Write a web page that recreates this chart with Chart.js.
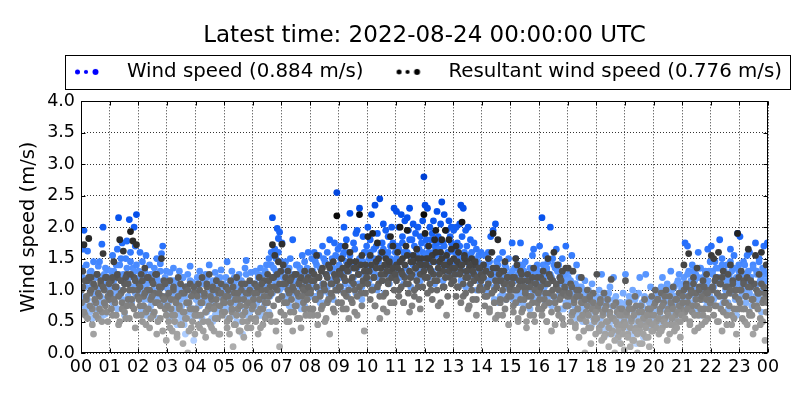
<!DOCTYPE html>
<html><head><meta charset="utf-8">
<script src="https://cdn.jsdelivr.net/npm/chart.js@4.4.0/dist/chart.umd.min.js"></script>
<style>html,body{margin:0;padding:0;background:#fff;}</style>
</head><body>
<canvas id="c" width="800" height="400"></canvas>
<script>
const titleText = 'Latest time: 2022-08-24 00:00:00 UTC';
const seriesNames = ['Wind speed (0.884 m/s)', 'Resultant wind speed (0.776 m/s)'];
const hourLabels = ['00','01','02','03','04','05','06','07','08','09','10','11','12','13','14','15','16','17','18','19','20','21','22','23','00'];
const yAxisTitle = 'Wind speed (m/s)';

// wind speed samples per hour of day (m/s), first group of days
const windSpeed = [
[1.35,1.65,1.95,0.85,1.15,1.62,0.72,1.28,1.05,0.55,1.45,0.92,1.2,0.68,1.38,1.02,0.8,1.73,2.0,1.25,0.62,1.1,1.32,0.95],
[1.2,0.9,1.55,1.3,0.75,1.05,1.65,2.15,1.4,0.95,1.75,1.25,0.6,1.5,1.78,1.12,2.12,1.6,0.85,1.35,2.0,1.7,2.2,1.1],
[1.3,1.6,0.95,1.45,1.2,0.7,1.55,1.1,0.85,1.4,1.25,0.6,1.0,1.35,0.8,1.5,1.15,0.9,1.42,1.58,1.7,1.05,0.75,1.3],
[1.1,0.8,1.28,0.6,0.95,1.35,0.7,1.15,0.45,1.0,1.3,0.85,0.55,1.2,0.9,0.3,1.05,1.25,0.75,1.38,0.65,1.12,0.2,0.95],
[1.0,1.2,0.75,1.3,0.9,0.55,1.15,0.85,1.25,0.65,1.05,1.4,0.8,1.1,0.5,0.95,1.28,0.7,1.18,0.6,1.02,1.32,0.88,1.1],
[0.95,1.2,1.45,0.7,1.05,0.85,1.3,0.6,1.12,0.9,0.5,1.0,1.25,0.75,1.15,0.3,0.95,1.35,1.47,0.8,1.1,0.65,1.28,1.05],
[1.1,0.85,1.3,0.7,1.2,0.95,1.35,0.6,1.05,1.25,0.8,1.4,1.15,1.5,0.9,1.6,2.15,1.55,1.65,1.3,1.98,1.82,1.92,1.45],
[1.75,1.2,0.9,1.45,1.05,1.3,0.75,1.5,1.15,1.8,0.95,1.25,1.4,0.85,1.1,1.35,0.7,1.55,1.2,1.45,1.0,1.3,1.6,1.15],
[1.3,1.5,1.1,1.6,0.9,1.4,1.2,1.55,0.8,1.35,1.7,1.0,1.45,1.25,1.6,0.95,1.8,1.15,1.5,1.35,1.75,1.05,2.55,1.65],
[1.4,1.7,1.2,1.55,2.0,1.3,1.8,1.0,1.6,2.22,1.45,1.15,1.75,1.35,1.9,1.95,1.25,2.3,1.5,1.05,1.85,1.6,1.3,1.7],
[2.0,1.5,1.8,2.2,1.3,1.65,2.35,1.45,1.9,1.2,2.45,1.6,1.75,2.05,1.35,1.95,1.55,1.85,1.25,1.7,2.0,1.45,2.3,1.6],
[2.25,1.7,2.0,1.45,2.2,1.85,1.6,2.1,1.35,2.15,1.95,2.3,1.55,1.8,2.05,1.4,1.9,1.65,2.0,1.5,1.85,1.75,2.1,2.8],
[2.35,1.8,2.3,1.6,2.0,1.45,1.9,2.1,1.7,1.55,2.25,1.85,1.65,2.05,2.4,1.75,2.2,1.5,1.95,1.6,2.1,1.85,2.0,1.7],
[1.95,1.6,2.0,1.75,1.45,2.05,2.35,1.85,2.3,1.55,1.95,1.7,2.0,1.4,1.8,1.6,1.5,1.75,1.35,1.65,1.45,1.55,1.3,1.6],
[1.4,1.2,1.55,1.0,1.35,1.6,1.15,1.85,1.3,1.95,1.05,2.05,1.45,1.25,1.5,0.9,1.3,1.6,1.1,1.4,0.85,1.2,1.5,1.0],
[1.2,1.75,1.0,1.35,1.5,0.9,1.25,1.4,1.75,1.1,0.8,1.3,1.45,1.0,1.2,0.75,1.35,1.1,1.55,1.65,0.95,1.25,1.4,1.05],
[1.7,1.25,2.15,1.4,1.05,1.55,1.3,1.45,0.9,2.0,1.2,1.5,0.8,1.35,1.65,1.1,1.4,0.95,1.25,1.5,0.7,1.2,1.7,1.0],
[1.2,1.0,1.3,1.55,0.8,1.1,0.6,1.4,0.95,1.2,0.7,1.05,0.5,0.9,1.15,0.65,0.85,1.0,0.4,0.75,1.1,0.55,0.9,0.7],
[0.9,0.7,1.0,0.55,1.25,0.8,0.4,0.95,0.65,0.3,0.85,1.05,0.5,0.75,1.2,0.35,0.9,0.6,0.2,0.8,0.45,0.7,0.95,0.55],
[1.25,0.8,0.5,0.9,0.3,0.7,1.0,0.4,0.85,0.15,0.6,0.95,1.2,0.5,0.75,0.25,0.9,1.25,0.65,0.45,0.8,1.05,0.55,0.85],
[0.75,1.0,0.6,0.9,0.45,0.85,1.05,1.2,0.7,0.95,0.5,1.1,0.8,1.0,1.3,0.65,0.9,1.05,0.55,0.85,1.15,1.25,0.75,1.0],
[1.1,1.2,1.75,0.9,1.7,1.3,0.8,1.05,1.4,0.7,1.15,1.25,0.95,1.6,1.35,0.6,1.0,1.2,0.85,1.3,1.1,1.65,0.75,1.45],
[1.7,1.3,1.05,1.45,1.2,0.9,1.35,1.8,1.1,1.5,0.8,1.25,1.0,1.4,0.7,1.2,1.65,1.3,0.95,1.55,1.15,0.6,1.9,1.4],
[1.85,1.3,1.1,1.45,0.9,1.25,1.55,1.0,1.6,1.2,0.75,1.4,1.05,1.75,1.3,0.85,1.5,1.15,0.65,1.35,1.7,1.0,1.25,1.75]
];

// wind speed samples per hour of day (m/s), second group of days
const windSpeed2 = [
[0.9,1.2,0.75,1.05,1.4,0.85,1.15,0.65,1.3,0.95,1.1,0.8,1.25,0.7,1.0,1.45,0.9,1.2,0.6,1.05,1.35,0.85,1.15,1.0],
[1.05,1.3,0.8,1.15,0.95,1.4,0.7,1.25,1.0,1.5,0.85,1.2,1.1,0.75,1.35,0.9,1.2,1.45,0.8,1.05,1.3,0.95,1.4,1.15],
[0.95,1.2,0.7,1.05,0.85,1.3,0.6,1.15,0.9,1.0,0.75,1.25,0.65,1.1,0.85,1.2,0.55,1.0,1.3,0.8,1.1,0.9,1.2,0.7],
[0.8,1.0,0.55,0.9,1.15,0.7,0.95,0.5,1.1,0.85,0.6,1.0,0.75,1.2,0.45,0.9,1.05,0.65,0.8,1.15,0.55,0.95,0.7,1.05],
[0.85,0.6,1.05,0.75,0.95,0.5,1.1,0.8,0.65,1.2,0.9,0.7,1.0,0.55,1.15,0.85,0.6,1.05,0.75,0.95,1.2,0.65,0.9,0.8],
[0.7,1.0,0.85,0.55,1.1,0.75,0.95,0.6,1.2,0.8,1.05,0.65,0.9,1.15,0.5,0.85,1.0,0.7,1.25,0.6,0.9,1.05,0.75,0.95],
[0.95,0.7,1.1,0.8,1.25,0.6,1.0,0.85,1.15,0.75,1.3,0.9,1.05,0.65,1.2,1.4,0.95,1.35,1.1,1.5,1.2,1.6,1.0,1.3],
[1.3,1.05,1.4,0.85,1.2,1.0,1.35,0.9,1.1,0.7,1.25,0.95,1.15,1.4,0.8,1.05,1.3,0.9,1.2,0.75,1.1,1.35,0.95,1.25],
[1.15,0.9,1.3,1.05,1.45,0.85,1.2,1.0,1.35,0.95,1.1,1.5,0.8,1.25,1.05,1.4,0.9,1.3,1.15,0.85,1.2,1.55,1.0,1.35],
[1.2,1.5,1.0,1.35,1.6,1.1,1.45,0.9,1.3,1.55,1.05,1.4,1.2,1.65,0.95,1.35,1.1,1.5,1.25,0.85,1.45,1.15,1.6,1.3],
[1.4,1.15,1.6,1.3,1.05,1.5,1.25,1.7,1.0,1.45,1.35,1.55,1.15,1.65,0.95,1.4,1.25,1.6,1.1,1.5,1.3,1.75,1.2,1.45],
[1.5,1.3,1.65,1.2,1.45,1.75,1.1,1.55,1.35,1.6,1.25,1.8,1.05,1.5,1.4,1.7,1.2,1.55,1.3,1.65,1.15,1.45,1.6,1.35],
[1.55,1.35,1.7,1.2,1.5,1.8,1.3,1.6,1.1,1.45,1.75,1.25,1.65,1.4,1.55,1.15,1.7,1.35,1.5,1.25,1.6,1.4,1.75,1.3],
[1.45,1.65,1.25,1.55,1.35,1.7,1.15,1.5,1.3,1.6,1.05,1.45,1.25,1.55,1.1,1.4,1.3,1.2,1.45,1.0,1.35,1.15,1.25,1.4],
[1.25,1.05,1.4,0.9,1.3,1.15,1.45,0.95,1.2,1.35,0.85,1.25,1.1,1.4,0.8,1.15,1.3,0.95,1.2,1.05,1.35,0.9,1.1,1.25],
[1.05,1.3,0.85,1.15,1.0,1.35,0.8,1.2,0.95,1.1,1.4,0.75,1.05,1.25,0.9,1.15,0.7,1.3,1.0,0.85,1.2,1.1,0.95,1.3],
[1.15,0.9,1.3,1.0,1.2,0.8,1.35,1.1,0.95,1.25,0.75,1.15,1.4,0.85,1.05,1.3,0.9,1.2,0.7,1.1,1.0,1.25,0.8,1.15],
[1.0,0.8,1.15,0.65,0.95,0.75,1.1,0.55,0.9,1.05,0.6,0.85,0.7,1.0,0.5,0.8,0.95,0.6,0.75,0.9,0.45,0.85,0.65,0.8],
[0.75,0.55,0.85,0.45,0.7,0.9,0.35,0.65,0.8,0.5,0.95,0.6,0.4,0.75,0.55,0.85,0.3,0.7,0.5,0.65,0.8,0.4,0.6,0.75],
[0.6,0.8,0.4,0.7,0.5,0.85,0.3,0.65,0.55,0.9,0.45,0.75,0.35,0.6,0.8,0.5,0.7,0.25,0.65,0.85,0.4,0.75,0.55,0.7],
[0.65,0.85,0.5,0.95,0.7,0.6,1.0,0.75,0.55,0.9,0.8,1.05,0.65,0.85,0.7,1.0,0.6,0.9,0.8,1.1,0.7,0.95,0.85,1.05],
[0.95,0.75,1.1,0.85,1.25,0.7,1.0,1.15,0.8,1.3,0.9,1.05,0.65,1.2,0.95,1.35,0.85,1.1,1.0,1.25,0.75,1.15,1.3,0.9],
[1.05,1.25,0.85,1.15,1.35,0.95,1.2,0.75,1.1,1.4,0.9,1.3,1.0,1.15,0.8,1.25,1.45,0.95,1.1,1.35,0.85,1.2,1.05,1.3],
[1.1,0.9,1.25,1.0,1.4,0.8,1.15,1.3,0.95,1.2,0.75,1.35,1.05,0.9,1.25,1.1,1.45,0.85,1.2,1.0,1.3,0.95,1.15,1.4]
];

// resultant wind speed samples per hour of day (m/s), first group of days
const resultantSpeed = [
[1.0,1.3,1.72,0.6,0.85,1.15,1.82,0.95,1.2,0.7,0.3,1.05,0.8,1.25,0.55,0.9,1.1,0.65,1.58,1.0,0.75,1.2,0.5,0.85],
[0.9,1.15,0.6,1.45,0.8,1.05,1.2,0.45,1.8,0.95,0.7,1.62,1.1,0.55,1.25,0.85,1.0,1.93,0.75,1.78,1.2,0.4,1.72,1.0],
[1.1,0.75,1.25,0.5,0.9,1.35,0.65,1.0,1.2,0.4,0.85,1.15,0.6,0.95,1.25,0.3,0.8,1.05,0.55,1.5,0.9,1.15,0.7,0.2],
[0.9,0.5,1.15,0.7,0.35,1.0,0.6,0.85,0.25,1.2,0.75,0.45,0.95,0.15,0.65,1.05,0.55,0.0,0.8,1.1,0.4,0.7,0.95,0.3],
[0.95,0.6,1.1,0.4,0.8,1.2,0.5,0.9,0.25,1.05,0.7,1.25,0.45,0.85,1.0,0.35,0.75,1.15,0.55,0.95,0.3,1.1,0.65,0.85],
[0.8,1.05,0.5,0.9,0.3,1.15,0.65,0.1,0.95,0.45,1.2,0.7,0.85,0.35,1.0,0.6,0.25,1.1,0.75,0.5,0.95,1.15,0.4,0.8],
[0.85,1.1,0.55,0.95,0.3,1.2,0.7,1.0,0.45,1.15,0.8,0.6,1.25,0.9,1.05,0.5,1.72,1.2,1.55,0.35,1.0,1.45,0.1,1.3],
[1.73,1.4,0.8,1.1,0.5,1.3,0.95,0.65,1.2,0.35,1.0,0.75,1.25,0.55,0.9,1.15,0.4,1.05,0.8,1.3,0.6,0.95,1.2,0.7],
[1.0,1.3,0.6,1.15,0.85,1.55,0.45,1.2,0.95,0.7,1.35,1.05,0.5,1.25,0.8,1.4,0.3,1.1,0.9,1.45,0.65,1.2,2.18,1.0],
[1.3,1.05,1.5,0.7,1.2,1.7,0.9,1.4,0.55,1.6,1.15,0.8,1.35,1.0,1.45,0.6,1.25,2.2,0.95,1.55,1.1,0.35,1.4,1.2],
[1.85,1.3,1.55,1.0,1.9,1.2,0.75,1.45,1.75,1.1,0.55,1.35,1.6,0.9,1.25,1.5,0.65,1.15,1.4,1.85,1.3,1.7,0.8,1.2],
[1.4,1.6,1.0,2.0,1.3,1.5,0.8,1.2,1.7,1.95,1.1,0.65,1.45,1.25,1.55,0.9,1.35,1.65,1.05,1.4,0.7,1.5,1.25,2.2],
[1.9,1.5,1.2,1.7,1.35,1.0,1.55,1.25,1.8,1.95,1.15,0.75,1.45,1.6,1.8,1.3,1.05,1.95,0.6,1.4,1.8,1.2,1.65,1.35],
[1.5,1.25,1.7,1.05,1.6,1.4,1.3,2.08,0.9,1.55,1.2,1.45,0.7,1.35,1.1,1.5,0.85,1.25,1.4,0.6,1.2,1.0,1.35,1.15],
[1.2,1.4,0.9,1.3,1.05,1.5,0.7,1.25,1.6,1.9,1.0,0.55,1.35,1.8,1.15,0.8,1.3,0.6,1.1,1.45,0.85,1.2,0.45,1.0],
[1.1,1.2,0.75,1.0,1.5,1.4,0.5,1.05,1.3,0.65,1.15,0.85,1.0,0.4,1.25,0.9,0.6,1.1,0.8,1.35,0.5,1.0,1.2,0.7],
[1.0,1.2,0.7,1.3,0.85,1.1,0.5,1.5,1.25,0.95,0.35,1.15,1.6,0.8,1.05,1.4,0.6,1.2,0.9,1.3,0.45,1.0,1.35,0.75],
[1.35,0.9,1.1,0.6,1.3,0.8,0.45,1.0,0.7,0.25,0.9,1.2,0.55,0.8,0.0,0.65,1.0,0.4,0.85,0.15,0.7,0.95,0.5,0.3],
[1.25,0.7,0.4,0.85,0.2,0.6,0.95,0.3,0.75,0.5,0.1,0.65,1.17,0.35,0.55,0.0,0.8,0.45,0.25,0.7,0.15,0.6,0.4,0.05],
[1.15,0.6,0.3,0.8,0.1,0.5,0.7,0.2,0.9,0.4,0.0,0.65,0.35,0.75,0.15,0.55,0.85,0.25,0.45,0.7,0.1,0.6,0.9,0.35],
[0.75,1.0,0.5,0.85,0.3,0.65,0.95,0.4,0.8,0.55,1.0,0.2,0.7,0.9,0.45,0.75,1.05,0.35,0.6,0.85,0.5,0.95,0.25,0.7],
[0.9,1.4,0.65,1.1,0.8,1.58,0.5,1.0,0.75,1.2,0.35,0.95,1.35,0.6,1.05,0.85,0.45,1.15,0.7,0.95,1.25,0.55,1.0,0.8],
[1.55,1.0,1.5,0.75,1.2,0.5,1.6,0.9,1.1,0.35,1.3,0.8,1.05,0.6,1.25,0.95,1.4,0.45,1.15,0.7,1.0,0.3,1.9,1.2],
[1.0,1.3,0.7,1.15,0.5,0.9,1.2,1.65,0.6,1.05,0.85,0.3,1.1,1.55,0.75,0.95,1.25,0.45,1.6,0.8,1.05,0.2,1.4,0.9]
];

// resultant wind speed samples per hour of day (m/s), second group of days
const resultantSpeed2 = [
[0.8,1.05,0.65,1.15,0.9,0.55,1.2,0.75,1.0,0.45,1.1,0.85,0.6,1.25,0.95,0.7,1.15,0.5,1.05,0.8,1.2,0.65,0.9,1.1],
[0.95,0.7,1.2,0.85,1.05,0.6,1.25,0.9,0.5,1.15,0.8,1.0,0.65,1.2,0.75,1.1,0.55,1.25,0.85,1.0,0.7,1.15,0.6,0.9],
[0.85,1.05,0.6,1.15,0.75,0.95,0.45,1.2,0.7,1.0,0.55,0.9,1.1,0.65,0.8,1.25,0.5,0.95,0.75,1.05,0.35,0.85,1.1,0.6],
[0.75,0.95,0.4,0.85,0.6,1.05,0.5,0.8,0.3,0.9,0.7,1.1,0.45,0.65,0.95,0.55,0.8,1.0,0.35,0.7,0.9,0.5,1.05,0.6],
[0.7,0.9,0.45,1.0,0.6,0.8,0.35,0.95,0.65,1.1,0.5,0.75,0.9,0.4,1.05,0.7,0.55,0.85,1.0,0.3,0.75,0.95,0.6,0.8],
[0.65,0.9,0.4,1.0,0.55,0.8,0.7,1.05,0.45,0.85,0.6,0.95,0.35,0.75,1.1,0.5,0.85,0.65,0.95,0.4,0.8,1.0,0.55,0.7],
[0.75,0.95,0.5,1.05,0.65,0.85,0.4,1.1,0.7,0.9,0.55,1.0,0.8,1.15,0.6,0.95,1.2,0.75,1.05,0.5,1.25,0.85,1.1,0.65],
[0.9,1.1,0.6,1.2,0.8,1.0,0.5,1.15,0.85,1.05,0.65,1.25,0.75,0.95,1.1,0.55,1.2,0.9,1.0,0.7,1.15,0.85,1.05,0.6],
[0.95,1.15,0.7,1.25,0.85,1.05,0.6,1.2,0.9,1.3,0.75,1.1,1.0,0.55,1.2,0.85,1.35,0.95,1.1,0.7,1.25,1.0,1.15,0.8],
[1.05,1.25,0.8,1.35,0.95,1.15,0.7,1.3,1.0,1.45,0.85,1.2,1.1,0.65,1.35,0.9,1.25,1.05,1.4,0.75,1.15,1.3,0.95,1.2],
[1.1,1.3,0.85,1.4,1.0,1.2,0.75,1.35,1.05,1.5,0.9,1.25,1.15,0.7,1.4,0.95,1.3,1.1,1.45,0.8,1.2,1.35,1.0,1.25],
[1.15,1.35,0.9,1.45,1.05,1.25,0.8,1.4,1.1,1.55,0.95,1.3,1.2,0.75,1.45,1.0,1.35,1.15,1.5,0.85,1.25,1.4,1.05,1.3],
[1.2,1.4,0.95,1.5,1.1,1.3,0.85,1.45,1.15,1.6,1.0,1.35,1.25,0.8,1.5,1.05,1.4,1.2,1.55,0.9,1.3,1.45,1.1,1.35],
[1.15,1.35,0.9,1.45,1.05,1.25,0.8,1.4,1.1,1.5,0.95,1.3,1.2,0.75,1.4,1.0,1.3,1.15,1.45,0.85,1.2,1.35,1.05,1.25],
[1.0,1.2,0.75,1.3,0.9,1.1,0.65,1.25,0.95,1.35,0.8,1.15,1.05,0.6,1.25,0.85,1.15,1.0,1.3,0.7,1.1,1.2,0.9,1.05],
[0.9,1.1,0.65,1.2,0.8,1.0,0.55,1.15,0.85,1.25,0.7,1.05,0.95,0.5,1.15,0.75,1.05,0.9,1.2,0.6,1.0,1.1,0.8,0.95],
[0.85,1.05,0.6,1.15,0.75,0.95,0.5,1.1,0.8,1.2,0.65,1.0,0.9,0.45,1.1,0.7,1.0,0.85,1.15,0.55,0.95,1.05,0.75,0.9],
[0.75,0.95,0.5,1.05,0.65,0.85,0.4,0.9,0.7,1.0,0.55,0.8,0.6,0.35,0.85,0.5,0.75,0.6,0.9,0.4,0.7,0.8,0.55,0.65],
[0.55,0.75,0.35,0.8,0.45,0.65,0.25,0.7,0.5,0.85,0.4,0.6,0.3,0.55,0.75,0.2,0.5,0.65,0.35,0.6,0.45,0.7,0.3,0.5],
[0.45,0.65,0.25,0.7,0.4,0.55,0.2,0.6,0.35,0.75,0.3,0.5,0.15,0.45,0.65,0.3,0.55,0.4,0.6,0.25,0.5,0.7,0.35,0.45],
[0.6,0.8,0.4,0.85,0.55,0.7,0.35,0.75,0.5,0.9,0.45,0.65,0.6,0.3,0.8,0.55,0.7,0.45,0.85,0.4,0.65,0.75,0.5,0.6],
[0.8,1.0,0.55,1.05,0.7,0.9,0.45,0.95,0.65,1.1,0.6,0.85,0.75,0.4,1.0,0.7,0.9,0.6,1.05,0.5,0.85,0.95,0.7,0.8],
[0.85,1.05,0.6,1.15,0.75,0.95,0.5,1.1,0.7,1.2,0.65,0.9,0.8,0.45,1.05,0.75,1.0,0.6,1.1,0.55,0.9,1.0,0.7,0.85],
[0.8,1.0,0.55,1.1,0.7,0.9,0.45,1.05,0.65,1.15,0.6,0.85,0.75,0.4,1.0,0.7,0.95,0.55,1.1,0.5,0.85,0.95,0.65,0.8]
];

// ---- styling ----
const FONT = "'DejaVu Sans', 'Liberation Sans', sans-serif";
const blueStops = [[0,[195,218,255]],[0.6,[150,192,255]],[1.0,[112,166,255]],[1.4,[72,138,255]],[1.8,[30,105,250]],[2.2,[5,80,235]],[2.8,[0,65,212]]];
const grayStops = [[0,178],[0.5,152],[0.8,124],[1.1,94],[1.5,62],[1.9,35],[2.2,10]];

function interp(stops, v) {
  if (v <= stops[0][0]) return stops[0][1];
  for (let i = 1; i < stops.length; i++) {
    if (v <= stops[i][0]) {
      const [a, ca] = stops[i-1], [b, cb] = stops[i];
      const t = (v - a) / (b - a);
      if (Array.isArray(ca)) return ca.map((c, k) => c + (cb[k] - c) * t);
      return ca + (cb - ca) * t;
    }
  }
  return stops[stops.length-1][1];
}
function blueColor(v) { const c = interp(blueStops, v).map(Math.round); return `rgb(${c[0]},${c[1]},${c[2]})`; }
function grayColor(v) { const g = Math.round(interp(grayStops, v)); return `rgb(${g},${g},${g})`; }

function toPoints(...groups) {
  const pts = [];
  groups.forEach(perHour => perHour.forEach((vals, h) => {
    vals.forEach((v, i) => pts.push({x: h + (i + 0.5) / vals.length, y: v}));
  }));
  return pts;
}

function legendIcon(color) {
  const c = document.createElement('canvas');
  c.width = 65; c.height = 12;
  const g = c.getContext('2d');
  g.fillStyle = color;
  [[25.5, 2.5], [34, 2.1], [43.5, 3.0]].forEach(([cx, r]) => { g.beginPath(); g.arc(cx, 6, r, 0, Math.PI * 2); g.fill(); });
  return c;
}
const legendIcons = [legendIcon('#0000ff'), legendIcon('#000000')];

const framePlugin = {
  id: 'frame',
  afterDraw(chart) {
    const {ctx, chartArea: a, scales} = chart;
    ctx.save();
    ctx.strokeStyle = '#000';
    ctx.lineWidth = 1;
    const L = Math.round(a.left) + 0.5, R = Math.round(a.right) - 0.5, T = Math.round(a.top) + 0.5, B = Math.round(a.bottom) - 0.5;
    ctx.strokeRect(L, T, R - L, B - T);
    ctx.beginPath();
    scales.x.ticks.forEach(t => {
      const px = Math.round(scales.x.getPixelForValue(t.value)) + 0.5;
      ctx.moveTo(px, B); ctx.lineTo(px, B - 4);
      ctx.moveTo(px, T); ctx.lineTo(px, T + 4);
    });
    scales.y.ticks.forEach(t => {
      const py = Math.round(scales.y.getPixelForValue(t.value)) + 0.5;
      ctx.moveTo(L, py); ctx.lineTo(L + 4, py);
      ctx.moveTo(R, py); ctx.lineTo(R - 4, py);
    });
    ctx.stroke();
    const lg = chart.legend;
    if (lg && lg.legendHitBoxes && lg.legendHitBoxes.length) {
      const hb = lg.legendHitBoxes;
      const last = hb[hb.length - 1];
      const x0 = Math.round(hb[0].left + 13) + 0.5;
      const x1 = Math.round(last.left + last.width + 8) + 0.5;
      const y0 = Math.round(lg.top + 3) + 0.5;
      const y1 = Math.round(lg.bottom - 3) + 0.5;
      ctx.strokeRect(x0, y0, x1 - x0, y1 - y0);
    }
    ctx.restore();
  }
};

new Chart(document.getElementById('c'), {
  type: 'scatter',
  data: {
    datasets: [
      { label: seriesNames[0], data: toPoints(windSpeed, windSpeed2), order: 1,
        backgroundColor: c => blueColor(c.raw ? c.raw.y : 1.5), borderWidth: 0,
        pointRadius: 3.4, pointHoverRadius: 3.4 },
      { label: seriesNames[1], data: toPoints(resultantSpeed, resultantSpeed2), order: 0,
        backgroundColor: c => grayColor(c.raw ? c.raw.y : 1.5), borderWidth: 0,
        pointRadius: 3.4, pointHoverRadius: 3.4 }
    ]
  },
  options: {
    responsive: false,
    animation: false,
    events: [],
    layout: { padding: { left: 42, right: -7, top: 0, bottom: 22 } },
    scales: {
      x: {
        type: 'linear', position: 'bottom', min: 0, max: 24,
        ticks: { stepSize: 1, autoSkip: false, maxRotation: 0, color: '#000', padding: 4,
                 font: { size: 17.5, family: FONT }, callback: v => hourLabels[v] },
        grid: { color: 'rgba(0,0,0,0.8)', lineWidth: 1, drawTicks: false },
        border: { display: false, dash: [1, 2] },
        afterFit: s => { s.height = 25; }
      },
      y: {
        position: 'left', min: 0, max: 4,
        ticks: { stepSize: 0.5, color: '#000', padding: 6, font: { size: 17.5, family: FONT },
                 callback: v => v.toFixed(1) },
        grid: { color: 'rgba(0,0,0,0.8)', lineWidth: 1, drawTicks: false },
        border: { display: false, dash: [1, 2] },
        title: { display: true, text: yAxisTitle, color: '#000', font: { size: 19.5, family: FONT },
                 padding: { top: -25, bottom: 0 } },
        afterFit: s => { s.width = 39; }
      },
      xTop: {
        type: 'linear', position: 'top', min: 0, max: 24, display: true,
        grid: { display: false }, ticks: { display: false }, border: { display: false },
        afterFit: s => { s.height = 9.5; }
      },
      yRight: {
        type: 'linear', position: 'right', min: 0, max: 4, display: true,
        grid: { display: false }, ticks: { display: false }, border: { display: false },
        afterFit: s => { s.width = 39; }
      }
    },
    plugins: {
      title: { display: true, text: titleText, color: '#000',
               font: { size: 23, family: FONT, weight: 'normal' }, padding: { top: 22, bottom: 2.4 } },
      legend: {
        display: true, align: 'start',
        labels: {
          usePointStyle: true, pointStyleWidth: 65, padding: 10, color: '#000',
          font: { size: 19.8, family: FONT },
          sort: (a, b) => a.datasetIndex - b.datasetIndex,
          generateLabels: chart => {
            const items = Chart.defaults.plugins.legend.labels.generateLabels(chart);
            items.forEach(it => { it.pointStyle = legendIcons[it.datasetIndex]; });
            return items;
          }
        }
      },
      tooltip: { enabled: false }
    }
  },
  plugins: [framePlugin]
});
</script>
</body></html>
